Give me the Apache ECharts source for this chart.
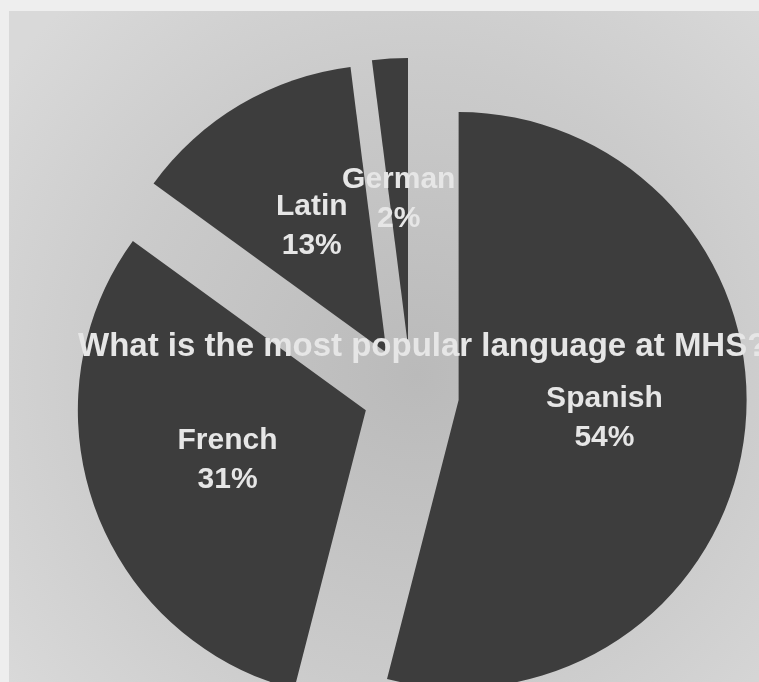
<!DOCTYPE html>
<html>
<head>
<meta charset="utf-8">
<script src="https://cdn.jsdelivr.net/npm/echarts@6/dist/echarts.min.js"></script>
<style>
html,body{margin:0;padding:0;background:#ececec;}
#chart{width:759px;height:682px;}
</style>
</head>
<body>
<div id="chart"></div>
<script>
var titleText = 'What is the most popular language at MHS?';
var categories = ['Spanish', 'French', 'Latin', 'German'];
var values = [54, 31, 13, 2];

var chart = echarts.init(document.getElementById('chart'), null, {renderer: 'canvas'});
var data = categories.map(function (c, i) {
  return {name: c, value: values[i], selected: true};
});
chart.setOption({
  animation: false,
  backgroundColor: {
    type: 'radial', x: 0.55, y: 0.55, r: 0.75,
    colorStops: [
      {offset: 0, color: '#bababa'},
      {offset: 0.6, color: '#cbcbcb'},
      {offset: 1, color: '#d9d9d9'}
    ]
  },
  graphic: [
    {type: 'rect', left: 0, top: 0, shape: {width: 759, height: 11}, style: {fill: '#eeeeee'}, z: 0},
    {type: 'rect', left: 0, top: 0, shape: {width: 9, height: 682}, style: {fill: '#eeeeee'}, z: 0}
  ],
  title: {
    text: titleText,
    left: 78,
    top: 330,
    padding: 0,
    textStyle: {
      color: '#e6e6e6',
      fontSize: 33,
      fontWeight: 'bold',
      fontFamily: 'Liberation Sans, Arial, sans-serif'
    },
    z: 10
  },
  series: [{
    type: 'pie',
    center: [411, 394],
    radius: 288,
    startAngle: 90,
    clockwise: true,
    selectedMode: 'multiple',
    selectedOffset: 48,
    avoidLabelOverlap: false,
    labelLayout: {hideOverlap: false},
    minShowLabelAngle: 0,
    data: data,
    itemStyle: {color: '#3d3d3d', borderWidth: 0},
    label: {
      show: true,
      position: 'inside',
      formatter: '{b}\n{c}%',
      color: '#e6e6e6',
      fontSize: 30,
      lineHeight: 39,
      fontWeight: 'bold',
      fontFamily: 'Liberation Sans, Arial, sans-serif'
    },
    labelLine: {show: false},
    emphasis: {disabled: true},
    select: {itemStyle: {color: '#3d3d3d'}, label: {color: '#e6e6e6'}}
  }]
});
</script>
</body>
</html>
